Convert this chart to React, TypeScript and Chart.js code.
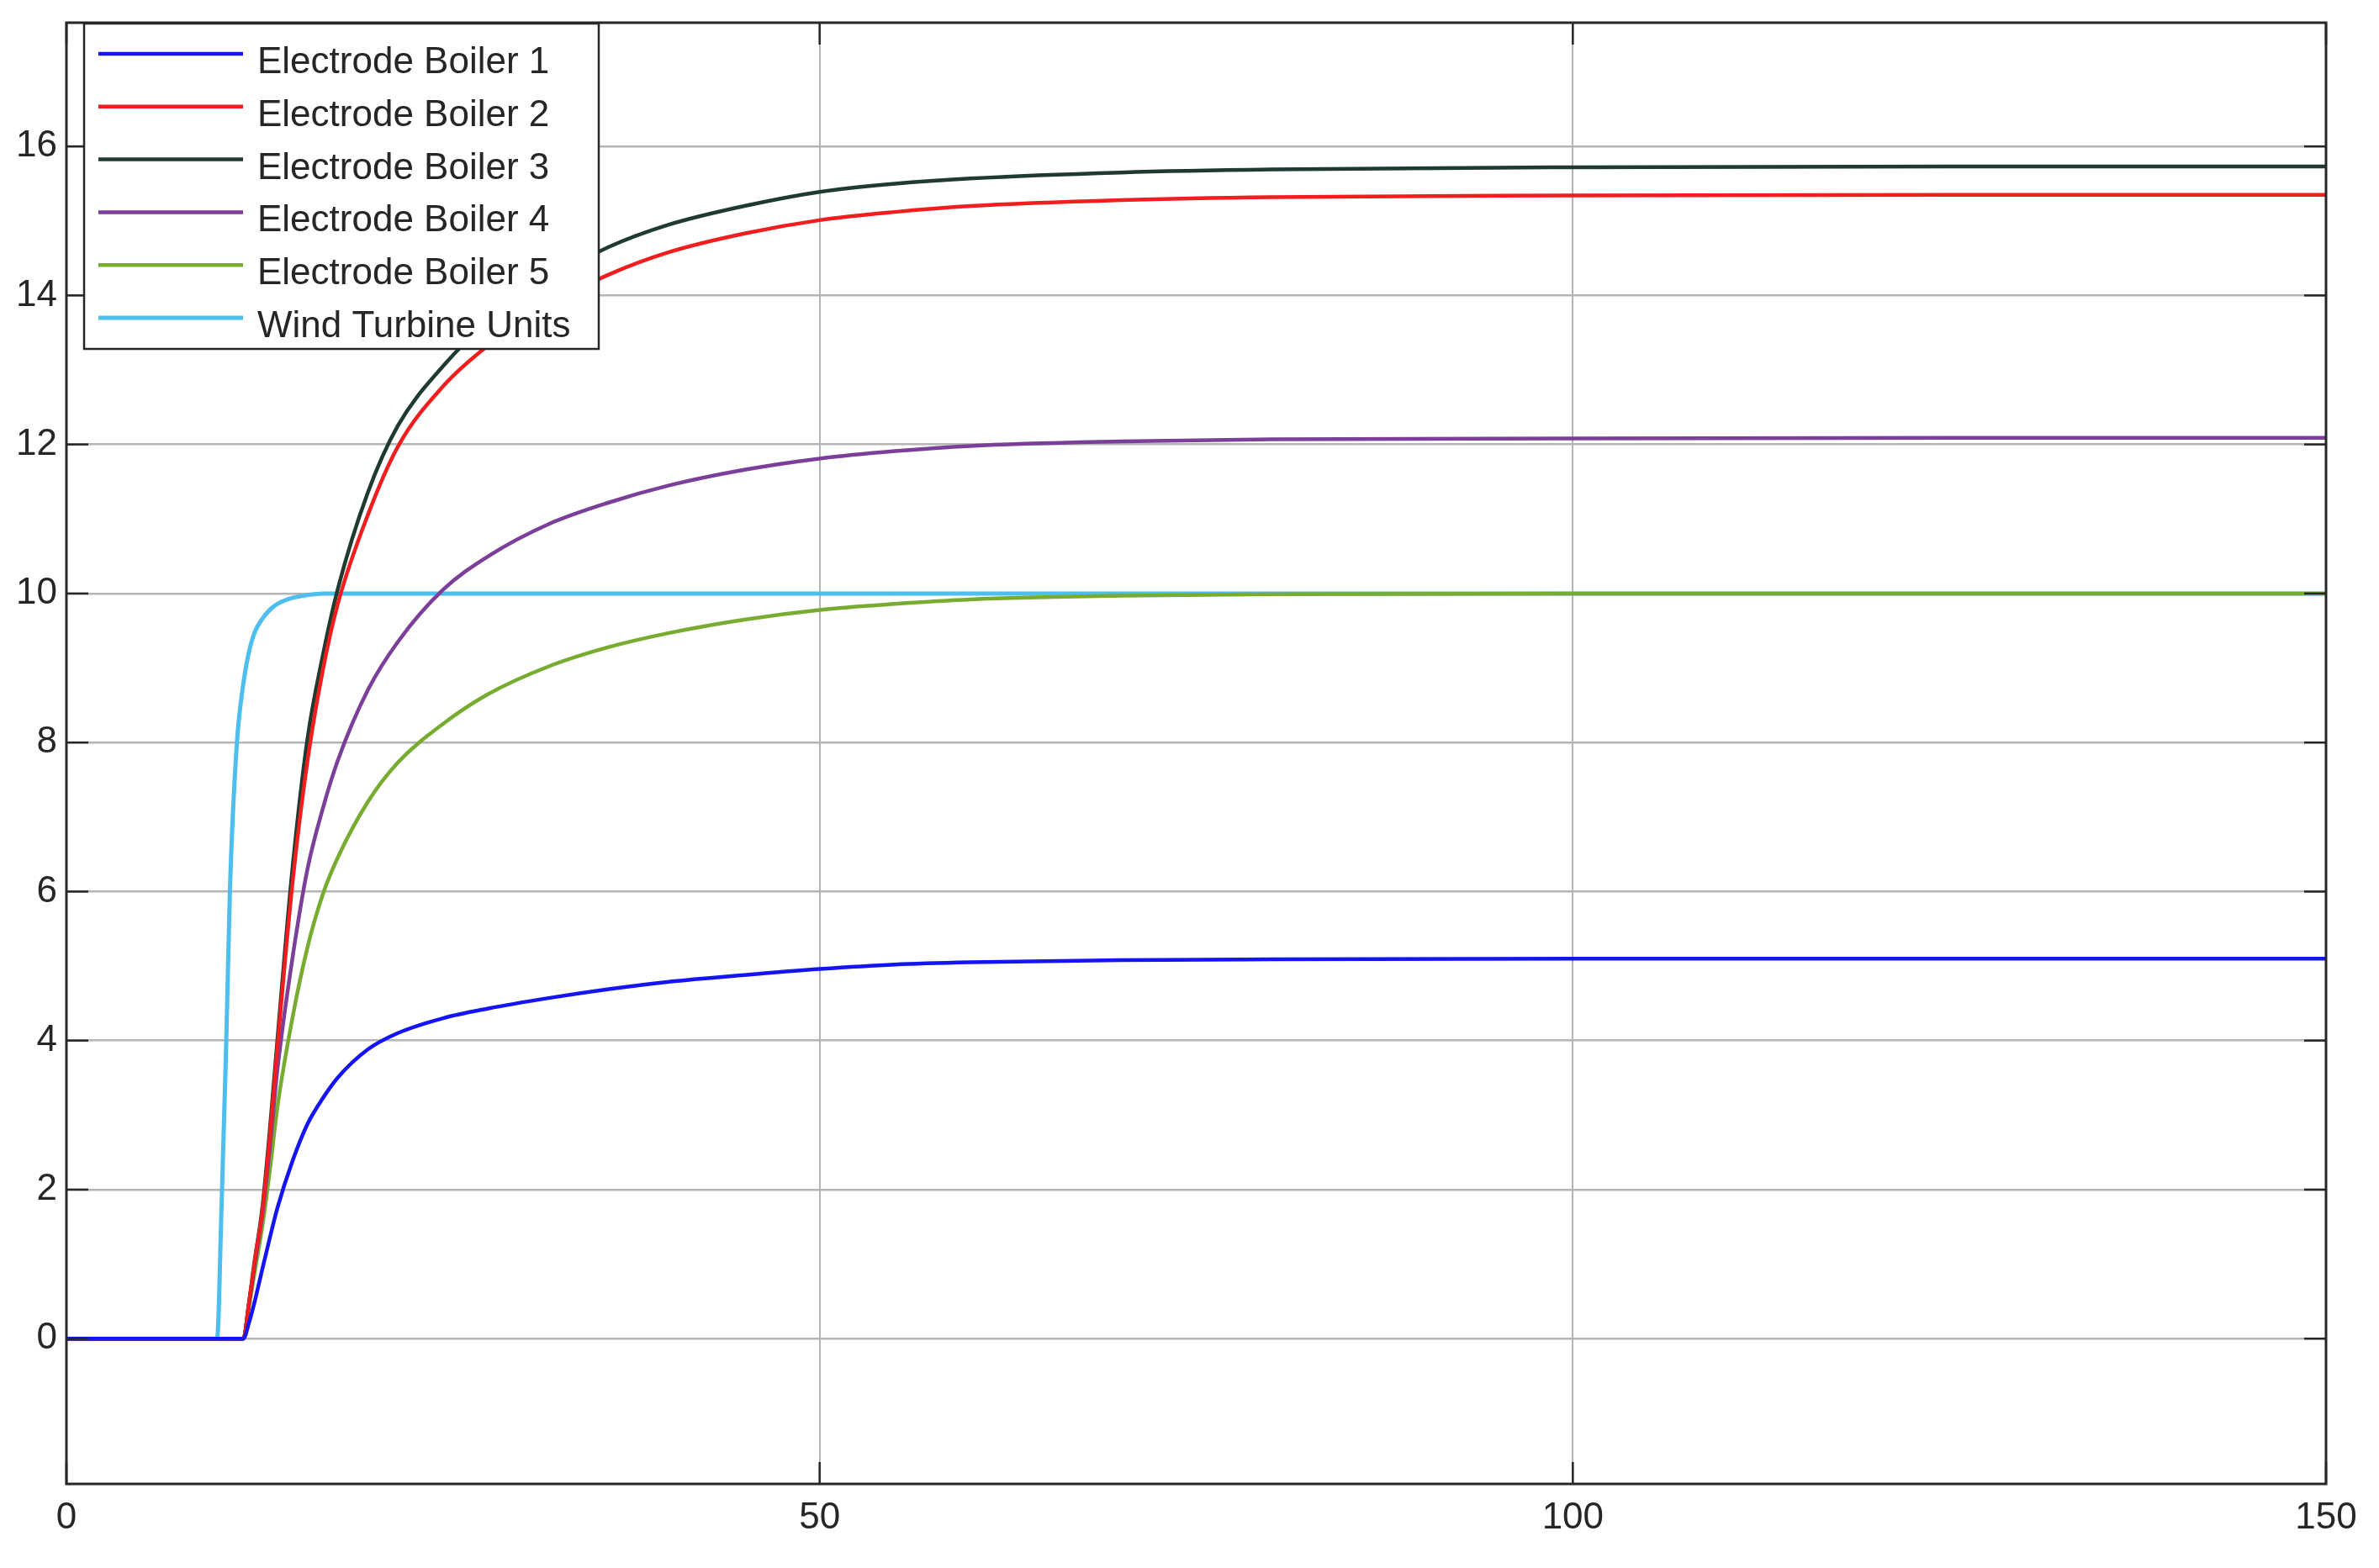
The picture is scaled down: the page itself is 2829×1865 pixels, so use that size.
import React, { useEffect, useRef } from "react";
import { Chart, registerables } from "chart.js";

Chart.register(...registerables);

// time axis (s)
const time = [
  0, 10, 10.3, 10.6, 10.85, 11.3, 11.75, 12.1, 12.5, 13, 13.5, 14, 15, 16, 17, 18,
  20, 22, 25, 28, 32, 36, 40, 45, 50, 55, 60, 70, 80, 100, 125, 150,
];

const boiler1 = [
  0, 0, 0, 0, 0, 0, 0, 0.2, 0.5, 0.93, 1.35, 1.75, 2.38, 2.88, 3.22, 3.5,
  3.88, 4.1, 4.3, 4.43, 4.57, 4.69, 4.79, 4.88, 4.96, 5.02, 5.05, 5.08, 5.09, 5.1, 5.1, 5.1,
];
const boiler2 = [
  0, 0, 0, 0, 0, 0, 0, 0.45, 1.05, 1.7, 2.7, 3.9, 6.1, 7.75, 8.95, 9.85,
  11.05, 11.97, 12.78, 13.33, 13.88, 14.28, 14.58, 14.83, 15.01, 15.12, 15.2, 15.28, 15.32, 15.34, 15.35, 15.35,
];
const boiler3 = [
  0, 0, 0, 0, 0, 0, 0, 0.45, 1.05, 1.75, 2.8, 4.0, 6.3, 8.05, 9.15, 10.05,
  11.35, 12.25, 13.05, 13.65, 14.22, 14.65, 14.95, 15.2, 15.39, 15.5, 15.57, 15.65, 15.69, 15.72, 15.73, 15.73,
];
const boiler4 = [
  0, 0, 0, 0, 0, 0, 0, 0.45, 1.0, 1.65, 2.55, 3.6, 5.1, 6.3, 7.1, 7.75,
  8.7, 9.35, 10.05, 10.5, 10.93, 11.22, 11.45, 11.66, 11.81, 11.91, 11.98, 12.04, 12.07, 12.08, 12.09, 12.09,
];
const boiler5 = [
  0, 0, 0, 0, 0, 0, 0, 0.4, 0.9, 1.5, 2.25, 3.1, 4.3, 5.25, 5.95, 6.45,
  7.2, 7.73, 8.25, 8.65, 9.02, 9.28, 9.47, 9.65, 9.78, 9.86, 9.92, 9.97, 9.99, 10, 10, 10,
];
const windUnits = [
  0, 0, 1.8, 3.9, 6.0, 7.95, 8.8, 9.2, 9.48, 9.66, 9.78, 9.86, 9.94, 9.98, 10, 10,
  10, 10, 10, 10, 10, 10, 10, 10, 10, 10, 10, 10, 10, 10, 10, 10,
];

const seriesLabels = [
  "Electrode Boiler 1",
  "Electrode Boiler 2",
  "Electrode Boiler 3",
  "Electrode Boiler 4",
  "Electrode Boiler 5",
  "Wind Turbine Units",
];
const seriesColors = ["#1414f5", "#f01e1e", "#1f3a2e", "#7b3f99", "#77ac30", "#4dbeee"];
const seriesValues = [boiler1, boiler2, boiler3, boiler4, boiler5, windUnits];

const xTicks = [0, 50, 100, 150];
const yTicks = [0, 2, 4, 6, 8, 10, 12, 14, 16];

const FONT = "'Liberation Sans', Arial, sans-serif";
const INK = "#262626";

// MATLAB-like box, inside ticks and legend
const framePlugin = {
  id: "frame",
  afterDraw(chart: any) {
    const { ctx, chartArea: a, scales } = chart;
    const x = scales.x;
    const y = scales.y;
    ctx.save();
    ctx.strokeStyle = INK;
    ctx.lineWidth = 2.5;
    const seg = (x1: number, y1: number, x2: number, y2: number) => {
      ctx.beginPath();
      ctx.moveTo(x1, y1);
      ctx.lineTo(x2, y2);
      ctx.stroke();
    };
    yTicks.forEach((v) => {
      const py = y.getPixelForValue(v);
      seg(a.left, py, a.left + 26, py);
      seg(a.right - 26, py, a.right, py);
    });
    xTicks.forEach((v) => {
      const px = x.getPixelForValue(v);
      seg(px, a.bottom, px, a.bottom - 26);
      seg(px, a.top, px, a.top + 26);
    });
    ctx.lineWidth = 3;
    ctx.strokeRect(a.left, a.top, a.right - a.left, a.bottom - a.top);

    // legend
    const lx = a.left + 21;
    const ly = a.top + 1;
    const lw = 612;
    const lh = 387;
    ctx.fillStyle = "#ffffff";
    ctx.fillRect(lx, ly, lw, lh);
    ctx.lineWidth = 2.5;
    ctx.strokeStyle = INK;
    ctx.strokeRect(lx, ly, lw, lh);
    ctx.font = `44px ${FONT}`;
    ctx.textBaseline = "alphabetic";
    chart.data.datasets.forEach((ds: any, i: number) => {
      const rowY = ly + 36 + i * 62.8;
      ctx.strokeStyle = ds.borderColor;
      ctx.lineWidth = ds.borderWidth;
      seg(lx + 17, rowY, lx + 189, rowY);
      ctx.fillStyle = INK;
      ctx.fillText(ds.label, lx + 206, rowY + 23);
    });
    ctx.restore();
  },
};

const App: React.FC = () => {
  const canvasRef = useRef<HTMLCanvasElement | null>(null);
  const chartRef = useRef<Chart | null>(null);

  useEffect(() => {
    document.body.style.margin = "0";
    if (chartRef.current) {
      chartRef.current.destroy();
    }
    if (!canvasRef.current) return;

    chartRef.current = new Chart(canvasRef.current, {
      type: "line",
      data: {
        datasets: seriesValues.map((vals, i) => ({
          label: seriesLabels[i],
          data: time.map((t, k) => ({ x: t, y: vals[k] })),
          borderColor: seriesColors[i],
          backgroundColor: seriesColors[i],
          borderWidth: i === 5 ? 5 : 4.5,
          pointRadius: 0,
          cubicInterpolationMode: "monotone" as const,
          fill: false,
        })),
      },
      options: {
        animation: false,
        responsive: false,
        devicePixelRatio: 1,
        layout: { padding: { left: 0, right: 63, top: 27, bottom: 0 } },
        plugins: {
          legend: { display: false },
          tooltip: { enabled: false },
        },
        scales: {
          x: {
            type: "linear",
            min: 0,
            max: 150,
            afterBuildTicks: (scale: any) => {
              scale.ticks = xTicks.map((value) => ({ value }));
            },
            afterFit: (scale: any) => {
              scale.height = 100;
              scale.paddingLeft = 0;
              scale.paddingRight = 0;
            },
            grid: { color: "#b4b4b4", lineWidth: 2, drawTicks: false },
            border: { display: false },
            ticks: {
              color: INK,
              padding: 14,
              maxRotation: 0,
              font: { family: FONT, size: 44 },
            },
          },
          y: {
            type: "linear",
            min: -1.95,
            max: 17.66,
            afterBuildTicks: (scale: any) => {
              scale.ticks = yTicks.map((value) => ({ value }));
            },
            afterFit: (scale: any) => {
              scale.width = 79;
              scale.paddingTop = 0;
              scale.paddingBottom = 0;
            },
            grid: { color: "#b4b4b4", lineWidth: 2.5, drawTicks: false },
            border: { display: false },
            ticks: {
              color: INK,
              padding: 11,
              font: { family: FONT, size: 44 },
            },
          },
        },
      },
      plugins: [framePlugin],
    });

    return () => {
      if (chartRef.current) {
        chartRef.current.destroy();
        chartRef.current = null;
      }
    };
  }, []);

  return (
    <div style={{ width: 2829, height: 1865, background: "#fff" }}>
      <canvas ref={canvasRef} width={2829} height={1865} style={{ display: "block" }} />
    </div>
  );
};

export default App;
